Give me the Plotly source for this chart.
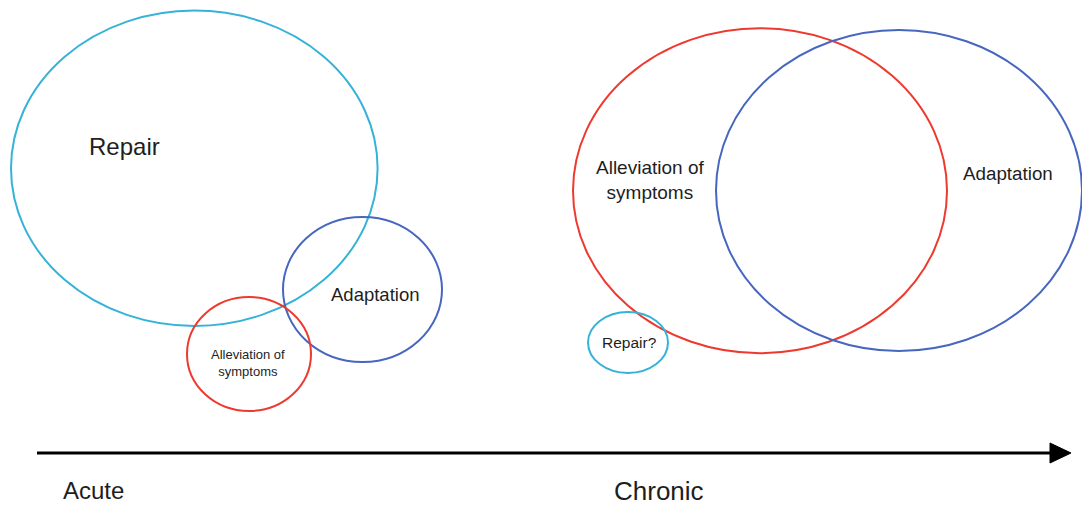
import plotly.graph_objects as go

# Ellipses (diagram units = pixels of the 1082x506 canvas, y downward)
ell_names = ["Repair", "Adaptation (acute)", "Alleviation (acute)",
             "Alleviation (chronic)", "Adaptation (chronic)", "Repair?"]
ell_cx = [194.3, 362.5, 249.0, 760.0, 899.0, 628.0]
ell_cy = [168.3, 289.5, 354.0, 190.7, 190.5, 342.5]
ell_rx = [183.3, 79.5, 62.0, 187.0, 183.0, 40.0]
ell_ry = [157.7, 72.5, 57.0, 162.5, 160.5, 30.5]
ell_col = ["#35B2D8", "#4666C0", "#EE3A2E", "#EE3A2E", "#4666C0", "#35B2D8"]

# Labels
lab_text = ["Repair", "Adaptation", "Alleviation of<br>symptoms",
            "Alleviation of<br>symptoms", "Adaptation", "Repair?",
            "Acute", "Chronic"]
lab_x = [124, 375, 248, 650, 1008, 629, 93, 659]
lab_y = [146, 294, 363, 180, 173, 342, 490, 491]
lab_size = [24, 18.5, 13, 19, 18.8, 15.5, 24, 26]

# Time axis arrow
arrow_x = [37, 1071]
arrow_y = 453

fig = go.Figure()
fig.add_trace(go.Scatter(x=[0, 1082], y=[0, 506], mode="markers",
                         marker=dict(opacity=0), hoverinfo="skip",
                         showlegend=False))

shapes = []
for cx, cy, rx, ry, c in zip(ell_cx, ell_cy, ell_rx, ell_ry, ell_col):
    shapes.append(dict(type="circle", xref="x", yref="y",
                       x0=cx - rx, x1=cx + rx, y0=cy - ry, y1=cy + ry,
                       line=dict(color=c, width=2)))

head_len = 21
head_half = 10
shapes.append(dict(type="line", xref="x", yref="y",
                   x0=arrow_x[0], x1=arrow_x[1] - head_len + 2,
                   y0=arrow_y, y1=arrow_y,
                   line=dict(color="#000000", width=3)))
tip = arrow_x[1]
base = tip - head_len
shapes.append(dict(type="path", xref="x", yref="y",
                   path=f"M {base},{arrow_y - head_half} L {tip},{arrow_y} L {base},{arrow_y + head_half} Z",
                   fillcolor="#000000", line=dict(color="#000000", width=1)))

annotations = []
for t, x, y, s in zip(lab_text, lab_x, lab_y, lab_size):
    annotations.append(dict(text=t, x=x, y=y, xref="x", yref="y",
                            showarrow=False, xanchor="center", yanchor="middle",
                            align="center",
                            font=dict(family="Liberation Sans, Arial", size=s,
                                      color="#1e1e1e")))

fig.update_layout(
    width=1082, height=506, autosize=False,
    margin=dict(l=0, r=0, t=0, b=0),
    paper_bgcolor="white", plot_bgcolor="white",
    shapes=shapes, annotations=annotations,
    xaxis=dict(range=[0, 1082], visible=False, fixedrange=True),
    yaxis=dict(range=[506, 0], visible=False, fixedrange=True),
    showlegend=False,
)

fig.write_html("out.html", config={"displayModeBar": False},
               post_script="document.body.style.margin='0';")
